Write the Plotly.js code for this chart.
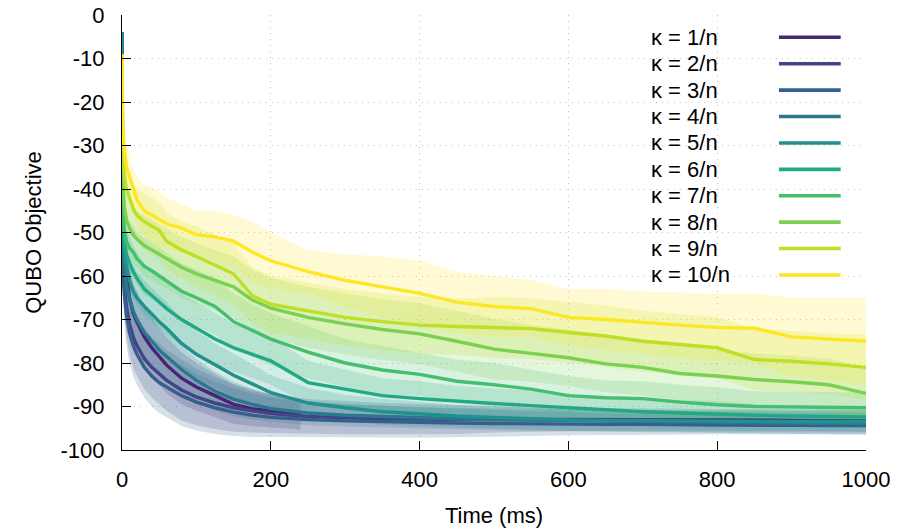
<!DOCTYPE html>
<html>
<head>
<meta charset="utf-8">
<script src="https://cdn.plot.ly/plotly-3.0.1.min.js"></script>
<style>html,body{margin:0;padding:0;background:#fff;}#chart{width:898px;height:529px;}</style>
</head>
<body>
<div id="chart"></div>
<script>
// Time grid (ms)
const T = [0,1,3,6,10,15,20,30,40,50,60,80,100,125,150,175,200,250,300,350,400,450,500,550,600,650,700,750,800,850,900,950,1000];
const T1 = [0,1,3,6,10,15,20,30,40,50,60,80,100,125,150,175,200,225,240];

const labels = ["κ = 1/n","κ = 2/n","κ = 3/n","κ = 4/n","κ = 5/n","κ = 6/n","κ = 7/n","κ = 8/n","κ = 9/n","κ = 10/n"];
const colors = ["#482475","#414487","#355f8d","#2a788e","#21918c","#22a884","#44bf70","#7ad151","#bddf26","#fde725"];

// mean objective per kappa
const k1 = [-4,-50,-55,-60,-65,-68.5,-70.5,-74,-76.5,-78.5,-80.5,-83.5,-85.5,-87.5,-89.5,-90.5,-91,-91.5,-91.8];
const k2 = [-4,-55,-62,-67,-71,-74,-76,-79,-81,-82.5,-84,-86.2,-87.8,-89.2,-90.3,-91,-91.6,-92.3,-92.6,-92.8,-92.9,-93,-93,-93,-93,-93,-93,-93,-93.1,-93.1,-93.2,-93.2,-93.3];
const k3 = [-4,-57,-64,-69,-73,-76,-78,-81,-83,-84.5,-85.5,-87.5,-89,-90.3,-91.3,-92,-92.5,-93,-93.3,-93.5,-93.7,-93.8,-93.9,-94,-94,-94.1,-94.1,-94.2,-94.2,-94.3,-94.3,-94.4,-94.4];
const k4 = [-4,-50,-58,-62,-65,-68,-70,-73,-75,-77,-78.5,-81.5,-84,-86.5,-88.3,-89.5,-90.5,-91.5,-92,-92.3,-92.6,-92.8,-93,-93.1,-93.2,-93.3,-93.5,-93.5,-93.6,-93.7,-93.8,-93.9,-94];
const k5 = [-4,-48,-55,-58,-61,-63.5,-65,-67,-68.8,-70.5,-72,-75.5,-78,-80.5,-82.8,-84.8,-86.8,-89.2,-90.3,-91.2,-91.7,-92.2,-92.5,-92.8,-93.1,-93.2,-93.3,-93.3,-93.4,-93.4,-93.5,-93.5,-93.5];
const k6 = [-9,-46,-52,-55,-57,-59,-60.5,-63,-64.5,-66,-67.5,-70,-72,-74.5,-76.5,-78,-79.5,-84.5,-86,-87.5,-88.2,-88.8,-89.3,-89.8,-90.3,-90.8,-91.2,-91.5,-91.8,-92,-92.2,-92.3,-92.4];
const k7 = [-9,-42,-49,-52,-53.5,-54.5,-56,-57.8,-58.8,-60,-61,-63.5,-65,-67,-70.5,-72.5,-74.5,-77.5,-80,-81.6,-82.6,-84.2,-85,-86,-87.5,-88,-88.2,-89,-89.6,-90,-90.1,-90.2,-90.3];
const k8 = [-9,-38,-44,-47,-49,-50.5,-51.5,-53,-54,-55,-56,-58,-59.5,-61,-62.5,-65.5,-67.4,-69.5,-71,-72.3,-73.3,-75,-76.8,-77.8,-78.8,-80.2,-81,-82.4,-83,-83.8,-84.3,-85,-87];
const k9 = [-9,-30,-37,-40,-42,-44.5,-46,-47.5,-48.5,-49.5,-52,-54,-55.5,-57.5,-59.5,-64.5,-66.5,-68,-69.5,-70.5,-71.3,-71.6,-71.8,-72.1,-73,-73.8,-75,-75.8,-76.5,-79.2,-79.6,-80.2,-81];
const k10 = [-9,-25,-31,-35,-37,-40,-42.5,-45,-46,-47,-48,-49,-50.5,-51,-52,-54.5,-56.5,-59,-61,-62.5,-64,-66,-67,-67.5,-69.5,-70,-70.7,-71.3,-71.8,-72,-74,-74.5,-75];

// spread (half band width) per kappa
const s1 = [0,6,6.5,7,7,7,7,7,7,6.5,6.5,6,5.5,5,4.5,4,3.8,3.6,3.5];
const s2 = [0,6,6.5,7,7,7,7,7,7,7,7,7,6.5,6,5.5,5,4.5,4,3.8,3.6,3.5,3.3,3,2.8,2.7,2.6,2.5,2.5,2.5,2.5,2.5,2.5,2.5];
const s3 = [0,6,6.5,7,7,7,7,7,7,7,7,7,6.5,6,5.5,5,4.5,4,3.8,3.6,3.5,3.3,3,2.8,2.6,2.5,2.4,2.3,2.2,2.1,2,2,2];
const s4 = [0,5,5.5,6,6,6,6,6,6,6,6,5.5,5,4.5,4,3.5,3,2.8,2.6,2.5,2.5,2.5,2.5,2.5,2.5,2.5,2.5,2.5,2.5,2.5,2.5,2.5,2.5];
const s5 = [0,5,5.5,6,6,6,6,6,6,6,6,5.5,5.5,5,5,4.5,4,3.5,3,3,2.8,2.6,2.5,2.5,2.5,2.5,2.5,2.5,2.5,2.5,2.5,2.5,2.5];
const s6 = [0,5,5.5,6,6,6,6,6,6,6,6,6,6,6,5.5,5.5,5.5,5,4.5,4,4,3.5,3.5,3.5,3,3,3,3,3,2.5,2.5,2.5,2.5];
const s7 = [0,4,5,5.5,6,6,6,6.5,6.5,6.5,6.5,6.5,6.5,6.5,6.5,6,6,6,5.5,5.5,5,5,5,4.5,4.5,4,4,4,4,3.5,3.5,3.5,3.5];
const s8 = [0,4,5,5.5,6,6.5,6.5,7,7,7,7,7,7,7,7,7,7,7,7,7,7,7,7,6.5,6.5,6.5,6.5,6.5,6,6,6,6,6];
const s9 = [0,4,5,5.5,6,6,6,6.5,6.5,6.5,6.5,6.5,7,7,7,6.5,6.5,6.5,6.5,6.5,6.5,6.5,7,7,7,7,7,7,7,7,7,7,7.5];
const s10 = [0,3,4,4.5,5,5,5.5,6,6.5,6.5,6,5.5,5.5,6,6,7,6.5,5,6,7,7.5,7,7,6.5,6.5,7,7.2,7.5,7.7,8,9,9.5,10];

const means = [k1,k2,k3,k4,k5,k6,k7,k8,k9,k10];
const spreads = [s1,s2,s3,s4,s5,s6,s7,s8,s9,s10];
const times = [T1,T,T,T,T,T,T,T,T,T];

function rgba(hex,a){const r=parseInt(hex.slice(1,3),16),g=parseInt(hex.slice(3,5),16),b=parseInt(hex.slice(5,7),16);return `rgba(${r},${g},${b},${a})`;}

const traces = [];
for(let i=0;i<10;i++){
  const m=means[i], s=spreads[i], t=times[i];
  traces.push({x:t,y:m.map((v,j)=>Math.max(-100,v-s[j])),mode:'lines',line:{width:0,color:colors[i]},showlegend:false,hoverinfo:'skip'});
  traces.push({x:t,y:m.map((v,j)=>Math.min(0,v+s[j])),mode:'lines',line:{width:0,color:colors[i]},fill:'tonexty',fillcolor:rgba(colors[i],0.2),showlegend:false,hoverinfo:'skip'});
}
for(let i=0;i<10;i++){
  traces.push({x:times[i],y:means[i],mode:'lines',line:{width:3.4,color:colors[i]},name:labels[i],showlegend:false});
}

// custom legend (text left, line sample right) in paper coordinates
const annotations=[], shapes=[];
const ly0=0.9487, lstep=0.0607;
for(let i=0;i<10;i++){
  const yy = ly0 - i*lstep;
  annotations.push({xref:'paper',yref:'paper',x:0.7083,y:yy,xanchor:'left',yanchor:'middle',text:labels[i],showarrow:false,font:{family:'Liberation Sans, Arial, sans-serif',size:22,color:'#000'}});
  shapes.push({type:'line',xref:'paper',yref:'paper',x0:0.883,x1:0.966,y0:yy,y1:yy,line:{color:colors[i],width:3.6}});
}

const font = {family:'Liberation Sans, Arial, sans-serif',size:22,color:'#000'};
const layout = {
  width:898,height:529,
  margin:{l:122,r:32,t:15,b:79},
  paper_bgcolor:'#fff',plot_bgcolor:'#fff',
  showlegend:false,
  font:font,
  xaxis:{range:[0,1000],tickvals:[0,200,400,600,800,1000],ticktext:['0','200','400','600','800','1000'],
    showline:true,linecolor:'#000',linewidth:1,mirror:false,ticks:'inside',ticklen:9,tickcolor:'#000',
    showgrid:true,gridcolor:'#c4c4c4',griddash:'1px,5px',gridwidth:1,zeroline:false,
    tickfont:font,ticklabelstandoff:10,
    title:{text:'Time (ms)',font:font,standoff:16}},
  yaxis:{range:[-100,0],tickvals:[0,-10,-20,-30,-40,-50,-60,-70,-80,-90,-100],ticktext:['0','-10','-20','-30','-40','-50','-60','-70','-80','-90','-100'],
    showline:true,linecolor:'#000',linewidth:1,mirror:false,ticks:'inside',ticklen:9,tickcolor:'#000',
    showgrid:true,gridcolor:'#c4c4c4',griddash:'1px,5px',gridwidth:1,zeroline:false,
    tickfont:font,ticklabelstandoff:12,
    title:{text:'QUBO Objective',font:font,standoff:12}},
  annotations:annotations,shapes:shapes
};
Plotly.newPlot('chart',traces,layout,{staticPlot:true});
</script>
</body>
</html>
